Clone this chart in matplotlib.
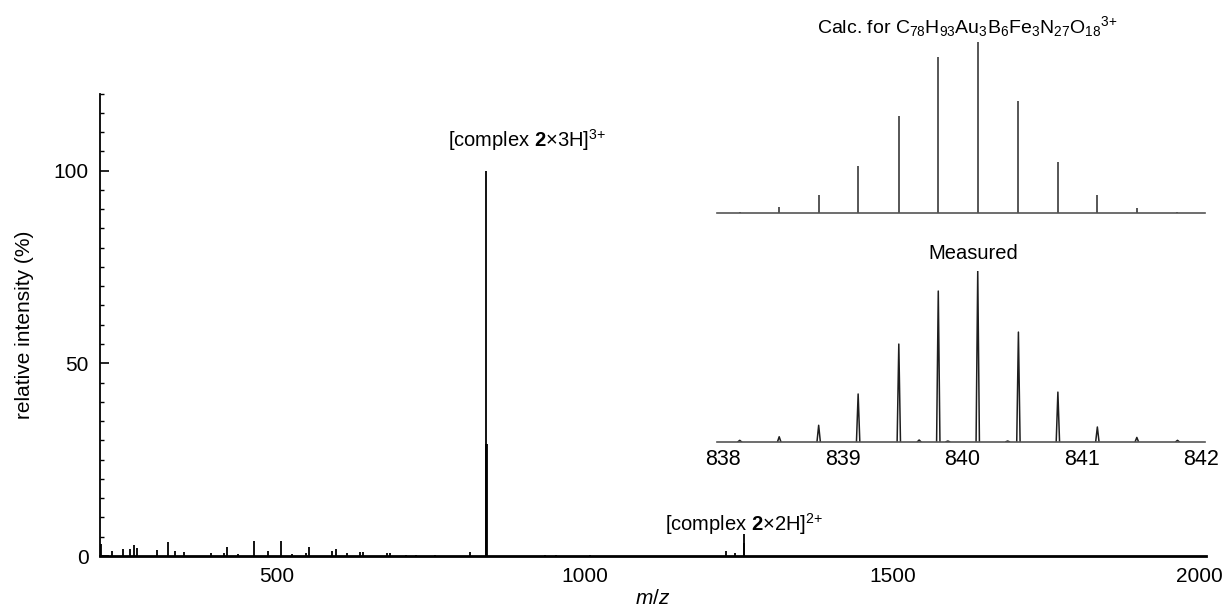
import matplotlib
matplotlib.use("Agg")
import matplotlib.pyplot as plt
import numpy as np

plt.rcParams['font.family'] = ['Liberation Sans', 'DejaVu Sans']
plt.rcParams['mathtext.fontset'] = 'custom'
plt.rcParams['mathtext.rm'] = 'Liberation Sans'
plt.rcParams['mathtext.it'] = 'Liberation Sans:italic'
plt.rcParams['mathtext.bf'] = 'Liberation Sans:bold'

# ---- main spectrum (m/z, relative intensity %) ----
spec_mz = [214, 231, 249, 260, 268, 272, 304, 322, 334, 349, 393, 413, 419, 437,
           463, 485, 506.5, 524, 547, 551.5, 589, 595, 614, 634, 639, 678, 684,
           710, 726, 757, 814, 838.8, 840, 841.2, 935.5, 953, 1009, 1229, 1244,
           1258.5, 1259.5]
spec_int = [3.0, 1.3, 1.9, 1.9, 2.9, 2.2, 1.5, 3.7, 1.2, 1.1, 0.7, 0.9, 2.3, 0.5,
            4.0, 1.4, 3.8, 0.4, 0.9, 2.4, 1.4, 1.7, 0.7, 1.0, 1.0, 0.8, 0.7,
            0.3, 0.3, 0.3, 1.0, 29, 100, 29, 0.3, 0.3, 0.3, 1.2, 0.7,
            3.5, 5.6]

# ---- isotope pattern inset ----
iso_mz = [838.14, 838.47, 838.80, 839.13, 839.47, 839.80, 840.13, 840.47,
          840.80, 841.13, 841.46, 841.80]
calc_int = [0.8, 3.3, 10.3, 27.3, 56.5, 91.2, 100, 65.7, 30.0, 10.5, 2.9, 0.8]
meas_int = [0.8, 2.9, 9.6, 27.9, 57.1, 88.1, 100, 64.1, 29.0, 8.6, 2.5, 0.8]
meas_minor_mz = [839.64, 839.88, 840.38]
meas_minor_int = [1.0, 0.4, 0.4]
inset_ticks = [838, 839, 840, 841, 842]

W, H = 1227, 608
fig = plt.figure(figsize=(W / 100, H / 100), dpi=100)

# main axes
ax = fig.add_axes([100 / W, 1 - 556 / H, 1106 / W, (556 - 93.5) / H])
ax.vlines(spec_mz, 0, spec_int, color='black', lw=1.3)
ax.set_xlim(212, 2010)
ax.set_ylim(0, 120)
for s in ['top', 'right']:
    ax.spines[s].set_visible(False)
ax.spines['bottom'].set_linewidth(2.0)
ax.spines['left'].set_linewidth(1.3)
ax.set_xticks([500, 1000, 1500, 2000])
ax.set_yticks([0, 50, 100])
ax.set_yticks(np.arange(0, 121, 5), minor=True)
ax.tick_params(axis='x', length=0, pad=8, labelsize=15)
ax.tick_params(axis='y', which='major', direction='in', length=6.5, width=1.2,
               pad=8, labelsize=15)
ax.tick_params(axis='y', which='minor', direction='in', length=3, width=1.0)
ax.set_xlabel('$\\mathit{m/z}$', fontsize=15, labelpad=2)
ax.set_ylabel('relative intensity (%)', fontsize=15, labelpad=14)

ax.text(778, 107.8, '[complex $\\mathbf{2}$×3H]$^{3{+}}$', ha='left', va='center',
        fontsize=14.5)
ax.text(1259.5, 8.3, '[complex $\\mathbf{2}$×2H]$^{2{+}}$', ha='center', va='center',
        fontsize=14.5)

gray = '#3a3a3a'

def style_inset(a, labels):
    a.set_xlim(837.95, 842.03)
    a.set_ylim(0, 100)
    for s in ['top', 'right', 'left']:
        a.spines[s].set_visible(False)
    a.spines['bottom'].set_color('#555555')
    a.spines['bottom'].set_linewidth(1.2)
    a.set_yticks([])
    a.set_xticks(inset_ticks)
    a.patch.set_alpha(0)
    if labels:
        a.tick_params(axis='x', length=0, pad=5, labelsize=15.5)
    else:
        a.tick_params(axis='x', length=0, labelbottom=False)

# calc inset
axc = fig.add_axes([717 / W, 1 - 213 / H, 488 / W, 171 / H])
axc.vlines(iso_mz, 0, calc_int, color=gray, lw=1.2)
style_inset(axc, False)
fig.text(967 / W, 1 - 27 / H,
         'Calc. for C$_{78}$H$_{93}$Au$_{3}$B$_{6}$Fe$_{3}$N$_{27}$O$_{18}$$^{3{+}}$',
         ha='center', va='center', fontsize=14)

# measured inset
axm = fig.add_axes([717 / W, 1 - 441.7 / H, 488 / W, 171 / H])
w = 0.014
px, py = [], []
for c, h in zip(list(iso_mz) + meas_minor_mz, list(meas_int) + meas_minor_int):
    px += [c - w, c, c + w, np.nan]
    py += [0, h, 0, np.nan]
axm.plot(px, py, color='#1e1e1e', lw=1.1)
style_inset(axm, True)
fig.text(973 / W, 1 - 253 / H, 'Measured', ha='center', va='center', fontsize=14.5)

fig.savefig('out.png', dpi=100)
